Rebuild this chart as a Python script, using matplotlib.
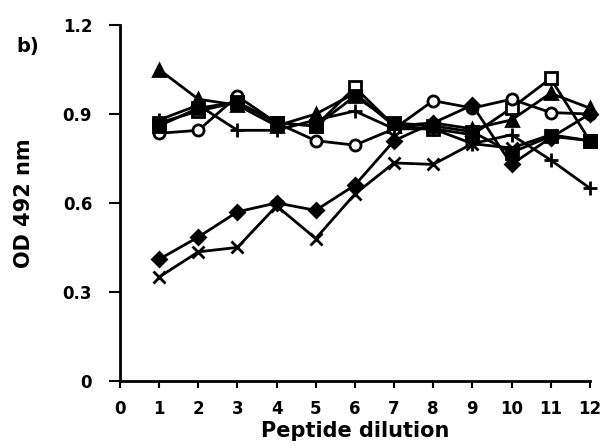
import numpy
import matplotlib
matplotlib.use('Agg')
import matplotlib.pyplot as plt

plt.rcParams['font.family'] = ['DejaVu Sans']
plt.rcParams['font.weight'] = 'bold'

# peptide dilution steps
dilution = [1, 2, 3, 4, 5, 6, 7, 8, 9, 10, 11, 12]

# OD 492 nm readings, one list per serum
tri_filled = [1.05, 0.95, 0.93, 0.86, 0.90, 0.97, 0.86, 0.87, 0.85, 0.88, 0.97, 0.92]
sq_open = [0.87, 0.91, 0.94, 0.87, 0.86, 0.99, 0.86, 0.85, 0.83, 0.92, 1.02, 0.81]
circ_open = [0.835, 0.845, 0.96, 0.87, 0.81, 0.795, 0.85, 0.945, 0.92, 0.95, 0.905, 0.90]
plus = [0.88, 0.93, 0.845, 0.845, 0.88, 0.91, 0.85, 0.85, 0.80, 0.83, 0.745, 0.65]
sq_filled = [0.86, 0.92, 0.94, 0.87, 0.86, 0.96, 0.87, 0.86, 0.84, 0.77, 0.825, 0.81]
diam_filled = [0.41, 0.485, 0.57, 0.60, 0.575, 0.66, 0.81, 0.87, 0.93, 0.73, 0.82, 0.90]
cross = [0.35, 0.435, 0.45, 0.59, 0.48, 0.63, 0.735, 0.73, 0.80, 0.785, 0.83, 0.81]

series = [
    (tri_filled, '^', 'k', 9),
    (sq_open, 's', 'w', 8),
    (circ_open, 'o', 'w', 8),
    (plus, '+', 'k', 10),
    (sq_filled, 's', 'k', 8),
    (diam_filled, 'D', 'k', 7),
    (cross, 'x', 'k', 9),
]

fig = plt.figure(figsize=(6, 4.48), dpi=100)
ax = fig.add_axes([0.2, 0.15, 0.783, 0.794])

for y, m, fc, ms in series:
    ax.plot(dilution, y, color='k', lw=2, marker=m, markersize=ms,
            markerfacecolor=fc, markeredgecolor='k', markeredgewidth=2,
            clip_on=False)

ax.set_xlim(0, 12)
ax.set_ylim(0, 1.2)
ax.set_xticks(numpy.arange(0, 13, 1))
ax.set_yticks([0, 0.3, 0.6, 0.9, 1.2])
ax.set_yticklabels(['0', '0.3', '0.6', '0.9', '1.2'])
ax.spines['top'].set_visible(False)
ax.spines['right'].set_visible(False)
ax.spines['left'].set_linewidth(2)
ax.spines['bottom'].set_linewidth(2)
ax.tick_params(axis='both', width=1.5, labelsize=12)
ax.tick_params(axis='y', length=8, pad=12)
ax.tick_params(axis='x', length=5, pad=9)
for lab in ax.get_xticklabels() + ax.get_yticklabels():
    lab.set_fontweight('bold')

ax.set_xlabel('Peptide dilution', fontsize=15, fontweight='bold', labelpad=2)
ax.set_ylabel('OD 492 nm', fontsize=15, fontweight='bold', labelpad=21)
fig.text(0.028, 0.885, 'b)', fontsize=14, fontweight='bold')

fig.savefig('out.png', dpi=100)
